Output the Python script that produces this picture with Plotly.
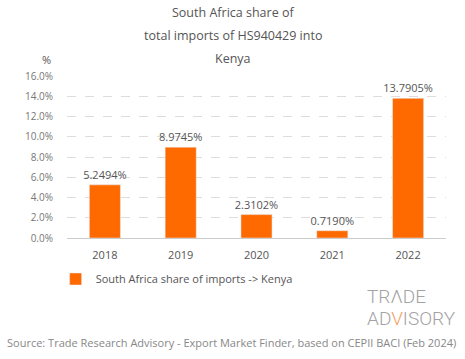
import plotly.graph_objects as go

years = ["2018", "2019", "2020", "2021", "2022"]
shares = [5.2494, 8.9745, 2.3102, 0.7190, 13.7905]
labels = ["5.2494%", "8.9745%", "2.3102%", "0.7190%", "13.7905%"]
tick_vals = [0, 2, 4, 6, 8, 10, 12, 14, 16]
tick_text = ["0.0%", "2.0%", "4.0%", "6.0%", "8.0%", "10.0%", "12.0%", "14.0%", "16.0%"]
title_lines = ["South Africa share of", "total imports of HS940429 into", "Kenya"]

FONT = "Open Sans"
ORANGE = "#FF6A00"

fig = go.Figure()
fig.add_trace(go.Bar(
    x=years, y=shares, name="South Africa share of imports -> Kenya",
    marker=dict(color=ORANGE), text=labels, textposition="outside",
    constraintext="none",
    textfont=dict(size=11, color="#555555", family=FONT), cliponaxis=False,
))

fig.update_layout(
    width=465, height=359,
    paper_bgcolor="white", plot_bgcolor="white",
    margin=dict(l=67, r=19, t=76, b=121, autoexpand=False),
    font=dict(family=FONT, color="#666666", size=11),
    bargap=0.59,
    showlegend=True,
    legend=dict(orientation="h", x=-0.03, y=-0.253, xanchor="left", yanchor="middle",
                font=dict(size=11, color="#555555")),
    xaxis=dict(showgrid=False, showline=False, ticks="", ticklabelstandoff=9,
               tickfont=dict(size=11, color="#555555")),
    yaxis=dict(range=[0, 16], tickvals=tick_vals, ticktext=tick_text,
               showgrid=True, gridcolor="#dddddd", griddash="dash", gridwidth=1,
               zeroline=True, zerolinecolor="#cccccc", zerolinewidth=1,
               ticklabelstandoff=13,
               tickfont=dict(size=10, color="#777777"), ticks=""),
)

for line, yy in zip(title_lines, [1.389, 1.247, 1.105]):
    fig.add_annotation(text=line, xref="paper", yref="paper", x=0.438, y=yy,
                       showarrow=False, xanchor="center", yanchor="middle",
                       font=dict(size=12.5, color="#555555"))

fig.add_annotation(text="%", xref="paper", yref="paper", x=-0.055, y=1.099,
                   showarrow=False, xanchor="center", yanchor="middle",
                   font=dict(size=11, color="#555555"))
fig.add_annotation(text="TR\u039bDE", xref="paper", yref="paper",
                   x=0.786, y=-0.364, xanchor="left", yanchor="middle",
                   showarrow=False, font=dict(size=19, color="#a3a3a3", family="Roboto", weight=300))
fig.add_annotation(text="AD<span style='color:#f2a25c'>V</span>ISORY", xref="paper", yref="paper",
                   x=0.786, y=-0.494, xanchor="left", yanchor="middle",
                   showarrow=False, font=dict(size=19, color="#a3a3a3", family="Roboto", weight=300))
fig.add_annotation(text="Source: Trade Research Advisory - Export Market Finder, based on CEPII BACI (Feb 2024)",
                   xref="paper", yref="paper", x=0.433, y=-0.648, xanchor="center", yanchor="middle",
                   showarrow=False, font=dict(size=11, color="#888888"))

fig.write_html("out.html", config={"displayModeBar": False},
               post_script="document.body.style.margin='0';document.body.style.padding='0';")
